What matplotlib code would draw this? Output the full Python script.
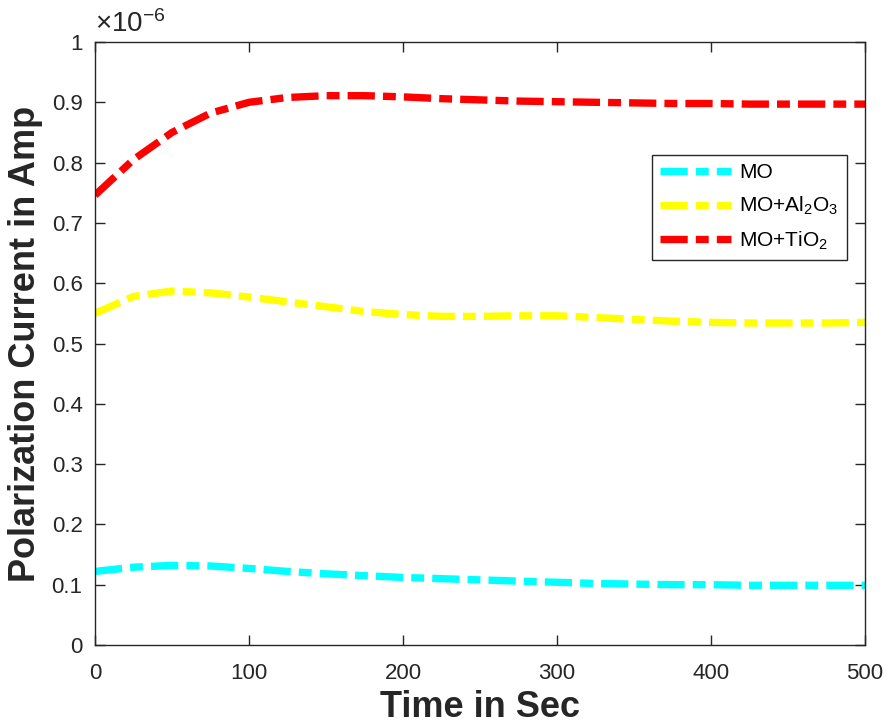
import numpy as np
import matplotlib
matplotlib.use('Agg')
from matplotlib import pyplot as plt
from matplotlib.ticker import FuncFormatter

# Data (current in Amp, x1e-6)
t = [0, 25, 50, 75, 100, 125, 150, 175, 200, 225, 250, 275, 300, 325, 350, 375, 400, 425, 450, 475, 500]
mo = [0.122, 0.129, 0.132, 0.131, 0.127, 0.122, 0.118, 0.115, 0.112, 0.110, 0.108, 0.106, 0.104, 0.102, 0.101, 0.100, 0.100, 0.099, 0.099, 0.099, 0.099]
mo_al2o3 = [0.550, 0.578, 0.587, 0.584, 0.577, 0.569, 0.561, 0.553, 0.548, 0.545, 0.545, 0.546, 0.546, 0.543, 0.540, 0.537, 0.535, 0.534, 0.534, 0.534, 0.535]
mo_tio2 = [0.746, 0.805, 0.850, 0.882, 0.900, 0.908, 0.911, 0.911, 0.909, 0.906, 0.904, 0.902, 0.901, 0.900, 0.899, 0.898, 0.898, 0.897, 0.897, 0.897, 0.897]

series = [(mo, '#00FFFF', 'MO'),
          (mo_al2o3, '#FFFF00', r'MO+Al$_2$O$_3$'),
          (mo_tio2, '#FF0000', r'MO+TiO$_2$')]

plt.rcParams['font.family'] = ['Liberation Sans', 'DejaVu Sans']
plt.rcParams['mathtext.fontset'] = 'custom'
plt.rcParams['mathtext.rm'] = 'Liberation Sans'
plt.rcParams['mathtext.it'] = 'Liberation Sans'

dark = '#262626'
fig = plt.figure(figsize=(8.88, 7.27), dpi=100)
ax = fig.add_axes([95/888, 82/727, 770/888, 603/727])

for y, c, lab in series:
    ax.plot(t, np.array(y)*1e-6, color=c, lw=5.3, label=lab,
            dashes=(3.7, 1.1, 1.75, 1.1), dash_capstyle='butt')

ax.set_xlim(0, 500)
ax.set_ylim(0, 1e-6)
ax.set_xticks(np.arange(0, 501, 100))
ax.set_yticks(np.arange(0, 11)*1e-7)
ax.yaxis.set_major_formatter(FuncFormatter(lambda v, p: '%g' % round(v*1e6, 3)))
ax.text(0.0, 1.006, r'$\times10^{-6}$', transform=ax.transAxes, fontsize=20,
        color=dark, ha='left', va='bottom')

ax.tick_params(direction='in', top=True, right=True, labelsize=16,
               length=7, width=1, colors=dark, labelcolor=dark)
ax.tick_params(axis='x', pad=13)
ax.tick_params(axis='y', pad=9)
for s in ax.spines.values():
    s.set_color(dark)
    s.set_linewidth(1)

ax.set_xlabel('Time in Sec', fontsize=26, fontweight='bold', color=dark, labelpad=4)
ax.set_ylabel('Polarization Current in Amp', fontsize=26, fontweight='bold', color=dark, labelpad=6)

leg = ax.legend(loc='upper left', bbox_to_anchor=(0.723, 0.8126), borderaxespad=0,
                fontsize=15, fancybox=False, framealpha=1, edgecolor=dark,
                handlelength=3.4, handletextpad=0.4, borderpad=0.4, labelspacing=0.6)
leg.get_frame().set_linewidth(1)

fig.savefig('out.png', dpi=100)
